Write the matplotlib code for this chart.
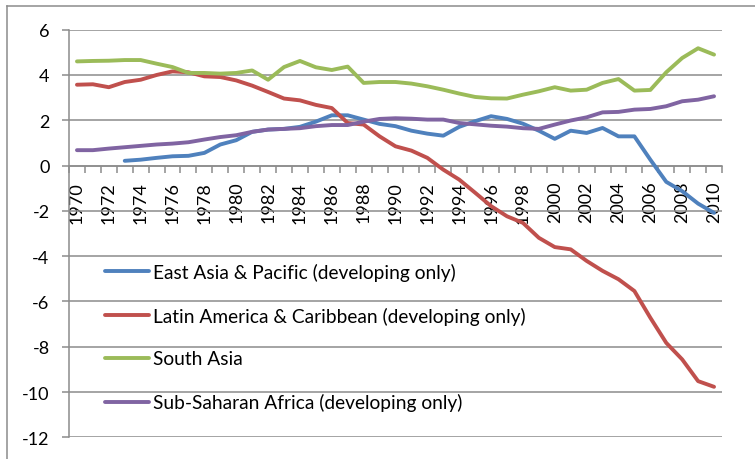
import numpy as np
import matplotlib
matplotlib.use("Agg")
import matplotlib.pyplot as plt
from matplotlib.lines import Line2D
from matplotlib.ticker import MultipleLocator, FixedLocator

years = list(range(1970, 2011))

east_asia = [np.nan, np.nan, np.nan, 0.21, 0.26, 0.34, 0.41, 0.43, 0.56, 0.93,
             1.12, 1.49, 1.59, 1.62, 1.71, 1.94, 2.22, 2.22, 2.03, 1.84,
             1.74, 1.54, 1.41, 1.32, 1.71, 1.96, 2.18, 2.06, 1.85, 1.54,
             1.18, 1.54, 1.44, 1.66, 1.29, 1.29, 0.26, -0.72, -1.13, -1.68,
             -2.09]
latin_america = [3.57, 3.59, 3.46, 3.69, 3.79, 4.00, 4.16, 4.12, 3.94, 3.91,
                 3.76, 3.53, 3.25, 2.96, 2.88, 2.68, 2.54, 1.88, 1.81, 1.29,
                 0.85, 0.66, 0.34, -0.18, -0.62, -1.20, -1.79, -2.24, -2.53, -3.19,
                 -3.60, -3.70, -4.21, -4.65, -5.02, -5.54, -6.72, -7.83, -8.56, -9.52,
                 -9.77]
south_asia = [4.60, 4.62, 4.63, 4.66, 4.66, 4.50, 4.35, 4.09, 4.09, 4.06,
              4.09, 4.20, 3.79, 4.35, 4.62, 4.34, 4.22, 4.37, 3.65, 3.69,
              3.69, 3.62, 3.50, 3.35, 3.18, 3.03, 2.97, 2.96, 3.13, 3.28,
              3.46, 3.31, 3.35, 3.65, 3.82, 3.31, 3.34, 4.12, 4.75, 5.18,
              4.90]
ssa = [0.68, 0.68, 0.75, 0.81, 0.87, 0.93, 0.97, 1.03, 1.15, 1.26,
       1.34, 1.49, 1.59, 1.62, 1.65, 1.74, 1.79, 1.79, 1.94, 2.06,
       2.09, 2.07, 2.03, 2.03, 1.88, 1.82, 1.76, 1.72, 1.65, 1.62,
       1.81, 1.99, 2.13, 2.35, 2.37, 2.47, 2.50, 2.62, 2.84, 2.91,
       3.06]

labels = ["East Asia & Pacific (developing only)",
          "Latin America & Caribbean (developing only)",
          "South Asia",
          "Sub-Saharan Africa (developing only)"]
series = [east_asia, latin_america, south_asia, ssa]
colors = ["#4F81BD", "#C0504D", "#9BBB59", "#8064A2"]

plt.rcParams['font.family'] = ['Lato', 'DejaVu Sans']
plt.rcParams['axes.unicode_minus'] = False
W, H = 755, 460
fig = plt.figure(figsize=(W / 100, H / 100), dpi=100)
fig.patch.set_facecolor("white")
ax = fig.add_axes([69 / W, 1 - 438.3 / H, (722 - 69) / W, (438.3 - 30.7) / H])

grid_c = "#8c8c8c"
for s, c, lab in zip(series, colors, labels):
    ax.plot(years, s, color=c, lw=2.8, label=lab,
            solid_joinstyle="round", solid_capstyle="round", zorder=3)

ax.set_xlim(1969.5, 2010.5)
ax.set_ylim(-12, 6)
ax.yaxis.set_major_locator(MultipleLocator(2))
ax.grid(axis="y", color=grid_c, lw=1.1, zorder=0)
ax.set_axisbelow(True)

ax.spines["top"].set_visible(False)
ax.spines["right"].set_visible(False)
ax.spines["left"].set_color(grid_c)
ax.spines["left"].set_linewidth(1.1)
ax.spines["bottom"].set_position(("data", 0))
ax.spines["bottom"].set_color(grid_c)
ax.spines["bottom"].set_linewidth(1.1)

ax.xaxis.set_major_locator(FixedLocator(years[::2]))
ax.xaxis.set_minor_locator(FixedLocator([y - 0.5 for y in years] + [2010.5]))
ax.set_xticklabels([str(y) for y in years[::2]], rotation=90, va="top", ha="center")
ax.tick_params(axis="x", which="major", length=0, pad=11, labelsize=13, colors="black")
ax.tick_params(axis="x", which="minor", length=5, width=1.1, color=grid_c, direction="out")
ax.tick_params(axis="y", which="major", length=5, width=1.1, color=grid_c,
               direction="out", pad=9, labelsize=13, labelcolor="black")

leg = ax.legend(loc="center left", bbox_to_anchor=(105 / W, 1 - 338 / H),
                bbox_transform=fig.transFigure, frameon=False, fontsize=13.8,
                handlelength=2.3, handletextpad=0.2, labelspacing=1.35,
                borderpad=0, borderaxespad=0)

# outer chart border (cropped on right/bottom)
fig.add_artist(Line2D([7 / W, 7 / W], [1 - 7 / H, 0], transform=fig.transFigure,
                      color="#8c8c8c", lw=1.1))
fig.add_artist(Line2D([7 / W, 1], [1 - 7 / H, 1 - 7 / H], transform=fig.transFigure,
                      color="#8c8c8c", lw=1.1))

fig.savefig("out.png", dpi=100)
